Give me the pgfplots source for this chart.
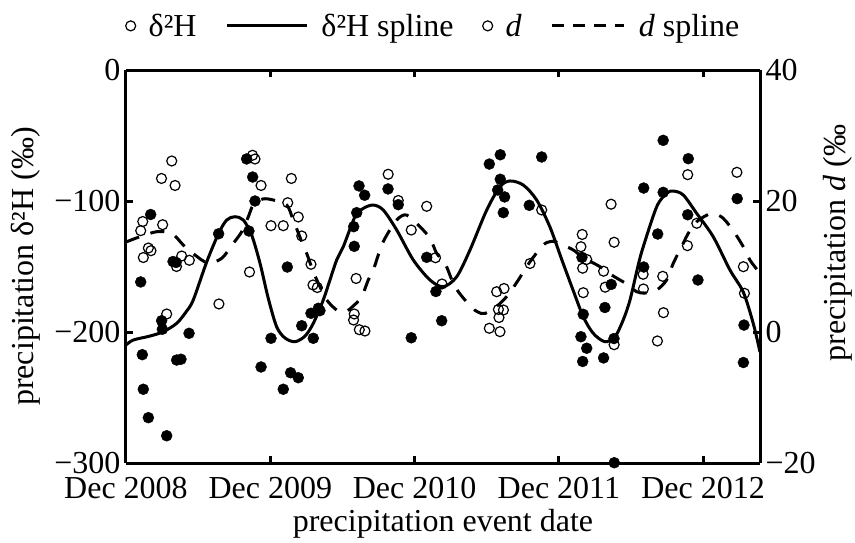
\documentclass[border=0pt]{standalone}
\usepackage{pgfplots}
\pgfplotsset{compat=1.18}
\usepackage{pgfplotstable}
\usepackage{fontspec}
\setmainfont{Liberation Serif}
\newcommand{\bigf}{\fontsize{32}{38}\selectfont}
\pgfplotsset{
  longline legend/.style={legend image code/.code={\draw[##1] (0pt,0pt) -- (80pt,0pt);}},
  dashline legend/.style={legend image code/.code={\draw[##1] (0pt,0pt) -- (72pt,0pt);}},
}

\pgfplotstableread{
x y
0.102 -161.8
0.113 -217.3
0.120 -243.7
0.155 -265.4
0.171 -110.3
0.247 -191.4
0.252 -197.9
0.282 -279.2
0.326 -146.2
0.347 -146.9
0.351 -221.4
0.381 -220.8
0.437 -201.0
0.642 -125.0
0.836 -67.9
0.852 -122.9
0.878 -81.7
0.894 -100.0
0.936 -226.7
1.005 -204.8
1.090 -243.7
1.118 -150.4
1.141 -231.1
1.194 -234.9
1.218 -195.2
1.282 -185.7
1.298 -204.8
1.333 -181.9
1.344 -183.7
1.578 -119.6
1.582 -134.6
1.599 -108.9
1.615 -88.5
1.654 -95.6
1.816 -90.8
1.887 -102.8
1.977 -204.4
2.084 -143.0
2.148 -169.1
2.188 -191.4
2.518 -71.8
2.576 -91.6
2.594 -64.7
2.594 -83.4
2.615 -108.9
2.624 -96.9
2.795 -103.3
2.881 -66.4
3.153 -203.6
3.160 -143.0
3.165 -222.5
3.169 -186.5
3.193 -212.4
3.310 -219.8
3.319 -181.3
3.363 -163.7
3.382 -205.0
3.384 -299.8
3.588 -90.1
3.588 -150.4
3.685 -125.2
3.723 -53.7
3.723 -93.4
3.893 -110.5
3.897 -67.7
3.964 -160.3
4.236 -98.2
4.283 -194.7
4.279 -223.3
}\hdata

\pgfplotstableread{
x y
0.000 -209.9
0.051 -206.1
0.166 -203.1
0.258 -199.8
0.351 -193.4
0.416 -184.7
0.466 -175.6
0.559 -146.6
0.642 -124.7
0.698 -114.5
0.755 -112.0
0.813 -114.5
0.871 -126.0
0.929 -147.6
0.986 -174.3
1.044 -196.0
1.102 -204.6
1.171 -207.4
1.241 -203.1
1.298 -193.4
1.367 -175.6
1.460 -145.0
1.506 -134.9
1.587 -112.0
1.645 -105.6
1.714 -103.1
1.783 -106.9
1.876 -122.1
1.991 -145.0
2.107 -160.3
2.199 -165.4
2.292 -157.8
2.384 -137.4
2.500 -106.9
2.592 -89.1
2.661 -84.7
2.753 -87.8
2.846 -99.2
2.938 -119.8
3.021 -145.0
3.098 -167.9
3.169 -188.3
3.238 -201.0
3.319 -207.4
3.389 -203.6
3.446 -190.8
3.493 -175.6
3.550 -148.9
3.585 -134.9
3.678 -104.4
3.747 -94.1
3.793 -92.4
3.862 -95.4
3.955 -109.4
4.070 -127.3
4.186 -152.7
4.278 -169.5
4.347 -193.4
4.394 -215.3
}\hspline

\pgfplotstableread{
x y
0.102 15.47
0.116 16.87
0.120 11.37
0.155 12.82
0.173 12.41
0.246 23.44
0.254 16.38
0.282 2.75
0.317 26.11
0.340 22.37
0.350 10.00
0.386 11.60
0.439 10.95
0.644 4.28
0.856 9.16
0.877 26.98
0.894 26.41
0.936 22.37
1.005 16.23
1.090 16.23
1.121 19.74
1.146 23.44
1.194 17.56
1.218 14.66
1.282 10.34
1.296 7.18
1.326 6.79
1.577 1.83
1.582 2.75
1.595 8.17
1.617 0.35
1.656 0.15
1.817 24.08
1.887 20.08
1.977 15.57
2.084 19.19
2.145 11.34
2.190 7.33
2.518 0.57
2.569 6.15
2.581 3.44
2.585 2.21
2.592 0.05
2.616 3.36
2.620 6.64
2.800 10.46
2.881 18.63
3.153 13.02
3.162 14.89
3.165 9.74
3.169 6.00
3.193 11.07
3.310 9.28
3.321 6.84
3.362 19.51
3.383 13.70
3.383 -1.94
3.584 8.81
3.586 6.57
3.683 -1.37
3.720 8.50
3.725 2.95
3.891 13.18
3.893 24.02
3.956 16.60
4.234 24.38
4.279 9.97
4.286 5.91
}\ddata

\pgfplotstableread{
x y
0.000 13.74
0.097 14.55
0.213 15.31
0.317 15.07
0.397 13.28
0.478 11.76
0.568 10.53
0.663 11.25
0.744 13.54
0.802 15.31
0.848 17.60
0.882 19.39
0.949 20.31
1.021 20.15
1.114 19.39
1.159 17.10
1.218 13.79
1.252 12.02
1.298 9.21
1.344 6.92
1.391 4.89
1.460 3.36
1.518 3.05
1.575 3.97
1.633 5.39
1.679 7.94
1.714 9.47
1.760 12.52
1.795 14.31
1.876 17.10
1.945 17.86
2.037 16.08
2.107 14.31
2.153 12.02
2.211 10.49
2.268 7.44
2.315 5.80
2.396 3.74
2.439 3.05
2.488 2.83
2.580 4.12
2.647 5.65
2.719 7.94
2.800 10.73
2.892 13.28
2.938 13.79
2.980 13.74
3.100 12.52
3.158 11.50
3.285 9.97
3.366 8.70
3.481 7.18
3.539 6.15
3.597 5.95
3.678 6.41
3.747 7.94
3.793 10.49
3.862 13.54
3.897 15.07
3.955 16.84
4.059 18.12
4.139 17.36
4.220 15.07
4.278 13.02
4.324 10.99
4.394 8.96
}\dspline

\begin{document}
\begin{tikzpicture}
\useasboundingbox (-126pt,-79pt) rectangle (729pt,463pt);
\begin{axis}[
  scale only axis, width=634pt, height=393pt,
  xmin=0, xmax=4.394, ymin=-300, ymax=0,
  axis y line*=left,
  axis line style={line width=3pt},
  tick align=inside,
  major tick length=7pt,
  every tick/.style={black, line width=3pt},
  xtick={0,1,2,3,4},
  xticklabels={Dec 2008,Dec 2009,Dec 2010,Dec 2011,Dec 2012},
  ytick={-300,-200,-100,0},
  yticklabels={−300,−200,−100,0},
  tick label style={font=\bigf},
  label style={font=\bigf},
  xlabel={precipitation event date},
  ylabel={precipitation δ²H (‰)},
  xlabel style={yshift=-3pt},
  ylabel style={at={(axis description cs:-0.158,0.5)}, anchor=center},
  xticklabel style={yshift=-11pt},
  yticklabel style={xshift=-2pt},
  clip=false,
  legend columns=4,
  legend style={draw=none, fill=none, font=\bigf,
    at={(axis description cs:0.485,1)}, anchor=south, yshift=30pt,
    /tikz/every odd column/.append style={column sep=11pt},
    /tikz/every even column/.append style={column sep=27pt},
    inner sep=0pt},
]
\addlegendimage{only marks, mark=o, mark size=5pt, line width=1.2pt, black}
\addlegendentry{δ²H}
\addlegendimage{black, line width=3pt, longline legend}
\addlegendentry{δ²H spline}
\addlegendimage{only marks, mark=o, mark size=5pt, line width=1.2pt, black}
\addlegendentry{\textit{d}}
\addlegendimage{black, line width=3pt, dash pattern=on 12pt off 9pt, dashline legend}
\addlegendentry{\textit{d} spline}
\addplot[only marks, mark=*, mark size=5.5pt, black, forget plot] table {\hdata};
\addplot[line width=3pt, black, smooth, forget plot] table {\hspline};
\end{axis}
\begin{axis}[
  scale only axis, width=634pt, height=393pt,
  xmin=0, xmax=4.394, ymin=-20, ymax=40,
  axis y line*=right,
  axis x line=none,
  axis line style={line width=3pt},
  tick align=inside,
  major tick length=7pt,
  every tick/.style={black, line width=3pt},
  ytick={-20,0,20,40},
  yticklabels={−20,0,20,40},
  tick label style={font=\bigf},
  yticklabel style={xshift=2pt},
  label style={font=\bigf},
  ylabel={precipitation \textit{d} (‰},
  ylabel style={at={(axis description cs:1.123,0.56)}, anchor=center, rotate=0},
  clip=false,
]
\addplot[only marks, mark=o, mark size=5pt, line width=1.2pt, black] table {\ddata};
\addplot[line width=3pt, black, smooth, dash pattern=on 14pt off 12pt] table {\dspline};
\end{axis}
\end{tikzpicture}
\end{document}
